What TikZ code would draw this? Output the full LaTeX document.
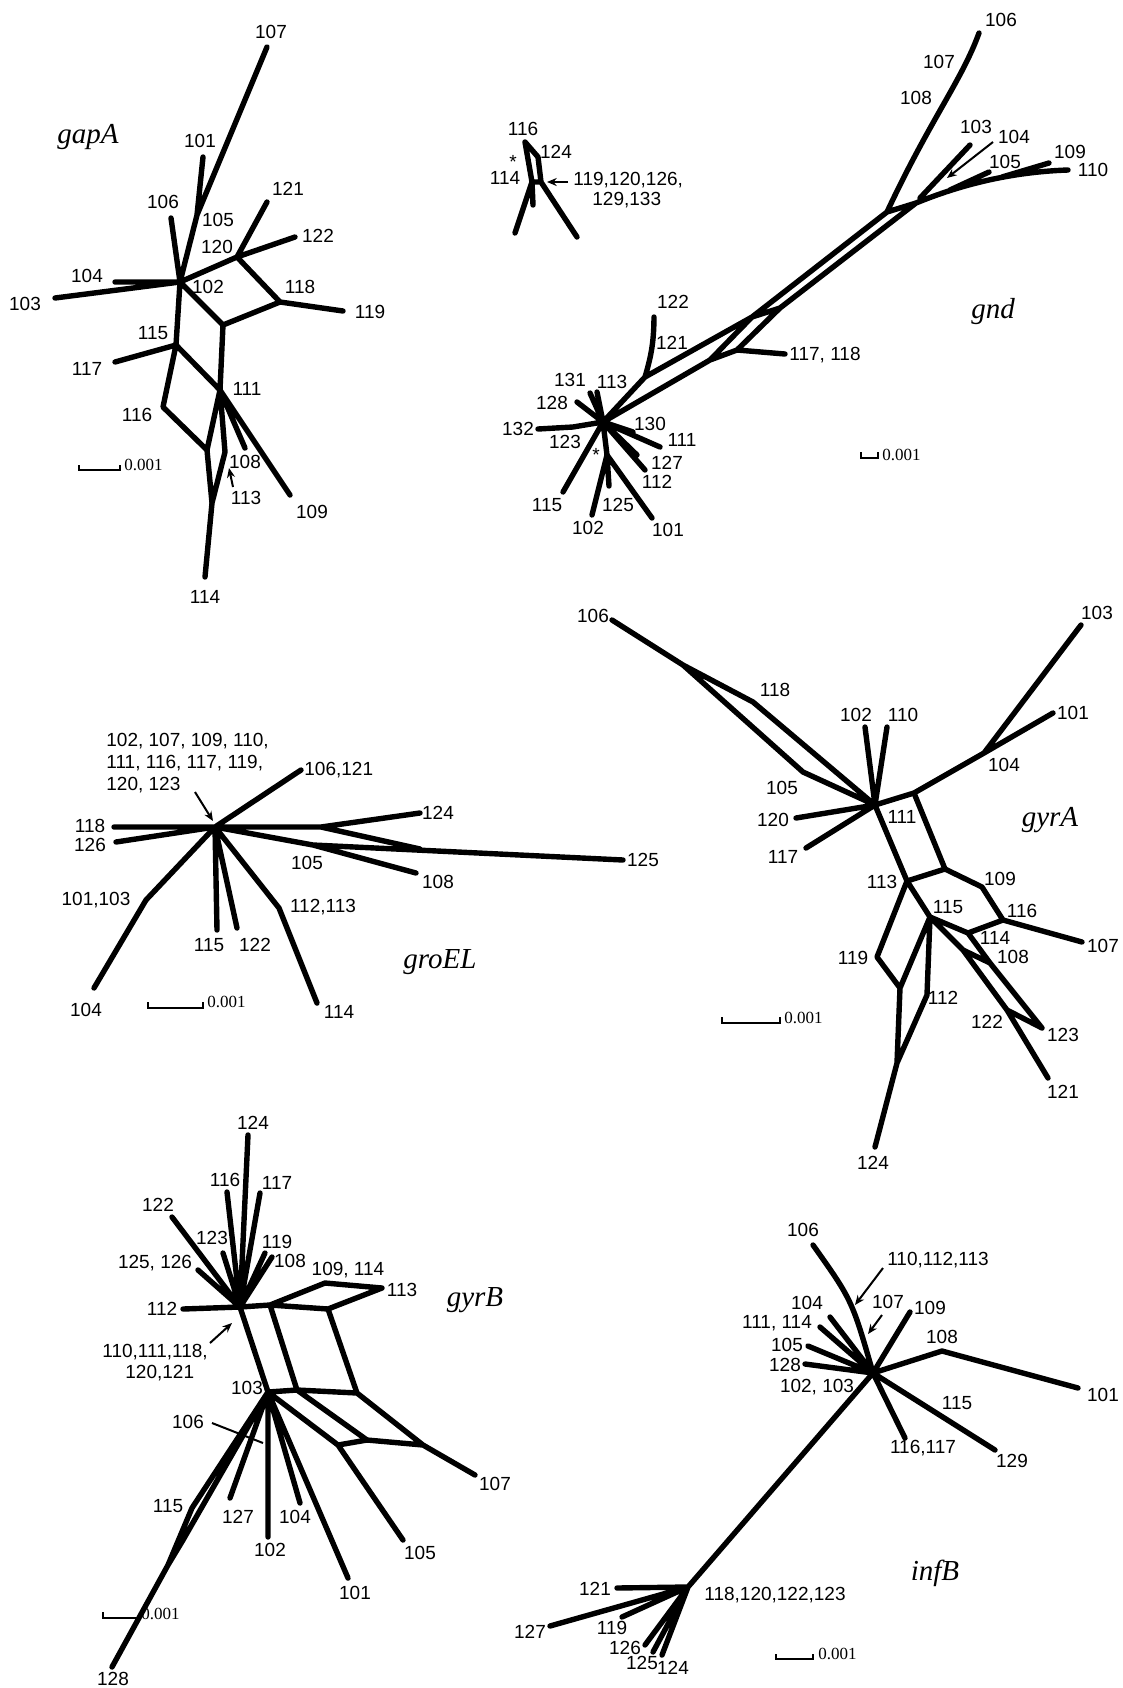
\documentclass[tikz,border=0pt]{standalone}
\usepackage{fontspec}
\setmainfont{Liberation Sans}
\newfontfamily\genefont{Liberation Serif}
\usetikzlibrary{arrows.meta}

\begin{document}
\begin{tikzpicture}[x=0.5pt, y=-0.5pt, every node/.style={inner sep=0pt},
  lab/.style={font=\fontsize{9.5}{10.8}\selectfont},
  gene/.style={font=\genefont\itshape\fontsize{14.5}{14.5}\selectfont},
  scl/.style={font=\genefont\fontsize{8.5}{9}\selectfont, anchor=west},
  br/.style={line width=2.7pt, line cap=round, line join=round},
  bar/.style={line width=1.3pt},
  arr/.style={line width=1pt, -{Stealth[length=1.7mm, width=1.4mm]}}]
\fill[white] (0,0) rectangle (1123,1688);
\useasboundingbox (0,0) rectangle (1123,1688);

% ---- gapA
\coordinate (ga-hub) at (180,282); \coordinate (ga-j) at (197,215); \coordinate (ga-e107) at (267,47);
\coordinate (ga-e101) at (203,157); \coordinate (ga-e106) at (171,218); \coordinate (ga-n120) at (237,257);
\coordinate (ga-e121) at (267,202); \coordinate (ga-e122) at (295,237); \coordinate (ga-n118) at (280,302);
\coordinate (ga-e119) at (343,311); \coordinate (ga-e104) at (115,282); \coordinate (ga-e103) at (55,298);
\coordinate (ga-n115) at (176,345); \coordinate (ga-b) at (223,325); \coordinate (ga-n111) at (220,390);
\coordinate (ga-e117) at (115,362); \coordinate (ga-n116) at (163,407); \coordinate (ga-c) at (207,450);
\coordinate (ga-d) at (225,452); \coordinate (ga-e) at (212,503); \coordinate (ga-e114) at (205,577);
\coordinate (ga-e108) at (245,448); \coordinate (ga-e109) at (290,495);
\draw[br] (ga-e107) -- (ga-j) -- (ga-hub) (ga-e101) -- (ga-j) (ga-e106) -- (ga-hub) -- (ga-n120) -- (ga-e121)
  (ga-n120) -- (ga-e122) (ga-n120) -- (ga-n118) -- (ga-e119) (ga-e104) -- (ga-hub) (ga-e103) -- (ga-hub)
  (ga-hub) -- (ga-n115) -- (ga-e117) (ga-hub) -- (ga-b) -- (ga-n118) (ga-b) -- (ga-n111) (ga-n115) -- (ga-n111)
  (ga-n115) -- (ga-n116) -- (ga-c) -- (ga-e) -- (ga-e114) (ga-n111) -- (ga-c) (ga-n111) -- (ga-d) -- (ga-e)
  (ga-n111) -- (ga-e108) (ga-n111) -- (ga-e109);
\node[lab] (ga-l107) at (271,32) {107}; \node[lab] (ga-l101) at (200,141) {101};
\node[lab] (ga-l106) at (163,202) {106}; \node[lab] (ga-l105) at (218,220) {105};
\node[lab] (ga-l120) at (217,247) {120}; \node[lab] (ga-l121) at (288,189) {121};
\node[lab] (ga-l122) at (318,236) {122}; \node[lab] (ga-l104) at (87,276) {104};
\node[lab] (ga-l103) at (25,304) {103}; \node[lab] (ga-l102) at (208,287) {102};
\node[lab] (ga-l118) at (300,287) {118}; \node[lab] (ga-l119) at (370,312) {119};
\node[lab] (ga-l115) at (153,333) {115}; \node[lab] (ga-l117) at (87,369) {117};
\node[lab] (ga-l111) at (247,389) {111}; \node[lab] (ga-l116) at (137,415) {116};
\node[lab] (ga-l108) at (245,462) {108}; \node[lab] (ga-l113) at (246,498) {113};
\node[lab] (ga-l109) at (312,512) {109}; \node[lab] (ga-l114) at (205,597) {114};
\coordinate (ga-a0) at (233,487); \coordinate (ga-a1) at (229,468);
\draw[arr] (ga-a0) -- (ga-a1);
\coordinate (ga-s0) at (79,465); \coordinate (ga-s1) at (120,465);
\draw[bar] (ga-s0) -- ++(0,5) -| (ga-s1);
\node[scl] (ga-sc) at (124,465) {0.001};
\node[gene] (ga-name) at (88,137) {gapA};

% ---- gnd, inset
\coordinate (gi-top) at (525,142); \coordinate (gi-a) at (538,157); \coordinate (gi-b) at (541,182);
\coordinate (gi-j) at (532,182); \coordinate (gi-e1) at (515,233); \coordinate (gi-e2) at (533,205);
\coordinate (gi-e3) at (577,237);
\draw[br] (gi-top) -- (gi-j) -- (gi-e1) (gi-j) -- (gi-e2) (gi-top) -- (gi-a) -- (gi-b) -- (gi-e3) (gi-j) -- (gi-b);
\node[lab] (gi-l116) at (523,129) {116}; \node[lab] (gi-l124) at (556,152) {124};
\node[lab] (gi-star) at (513,162) {*}; \node[lab] (gi-l114) at (505,178) {114};
\coordinate (gi-a0) at (568,182); \coordinate (gi-a1) at (547,182);
\draw[arr] (gi-a0) -- (gi-a1);
\node[lab, anchor=west] (gi-t1) at (573,180) {119,120,126,};
\node[lab, anchor=west] (gi-t2) at (592,200) {129,133};

% ---- gnd, main
\coordinate (gn-h) at (603,422); \coordinate (gn-r121) at (645,377); \coordinate (gn-e122) at (654,317);
\coordinate (gn-p1) at (752,317); \coordinate (gn-p2) at (780,308); \coordinate (gn-p3) at (737,350);
\coordinate (gn-p4) at (710,360); \coordinate (gn-e117) at (785,354); \coordinate (gn-u) at (887,212);
\coordinate (gn-v) at (916,203); \coordinate (gn-e106) at (979,33); \coordinate (gn-e110) at (1068,170);
\coordinate (gn-k109) at (1002,177); \coordinate (gn-e109) at (1049,163); \coordinate (gn-k105) at (950,190);
\coordinate (gn-e105) at (989,172); \coordinate (gn-n103) at (920,198); \coordinate (gn-e103) at (970,145);
\coordinate (gn-e131) at (590,393); \coordinate (gn-e113) at (597,392); \coordinate (gn-e128) at (577,402);
\coordinate (gn-k132) at (573,427); \coordinate (gn-e132) at (538,429); \coordinate (gn-e115) at (563,492);
\coordinate (gn-s) at (607,455); \coordinate (gn-e102) at (592,515); \coordinate (gn-e125) at (609,486);
\coordinate (gn-e101) at (652,518); \coordinate (gn-e112) at (645,470); \coordinate (gn-e127) at (637,455);
\coordinate (gn-e111) at (660,447); \coordinate (gn-e130) at (633,432);
\draw[br] (gn-h) -- (gn-r121) -- (gn-p1) -- (gn-u) -- (gn-v) (gn-r121) to[bend right=8] (gn-e122)
  (gn-h) -- (gn-p4) -- (gn-p3) -- (gn-e117) (gn-p4) -- (gn-p1) (gn-p3) -- (gn-p2) -- (gn-v) (gn-p1) -- (gn-p2)
  (gn-u) .. controls (930,120) and (962,80) .. (gn-e106)
  (gn-v) .. controls (960,185) and (1010,172) .. (gn-e110)
  (gn-k109) -- (gn-e109) (gn-k105) -- (gn-e105) (gn-n103) -- (gn-e103)
  (gn-h) -- (gn-e131) (gn-h) -- (gn-e113) (gn-h) -- (gn-e128) (gn-h) -- (gn-k132) -- (gn-e132)
  (gn-h) -- (gn-e115) (gn-h) -- (gn-s) -- (gn-e102) (gn-s) -- (gn-e125) (gn-s) -- (gn-e101)
  (gn-h) -- (gn-e112) (gn-h) -- (gn-e127) (gn-h) -- (gn-e111) (gn-h) -- (gn-e130);
\node[lab] (gn-l106) at (1001,20) {106}; \node[lab] (gn-l107) at (939,62) {107};
\node[lab] (gn-l108) at (916,98) {108}; \node[lab] (gn-l103) at (976,127) {103};
\node[lab] (gn-l104) at (1014,137) {104}; \node[lab] (gn-l105) at (1005,162) {105};
\node[lab] (gn-l109) at (1070,152) {109}; \node[lab] (gn-l110) at (1093,170) {110};
\node[lab] (gn-l122) at (673,302) {122}; \node[lab] (gn-l121) at (672,343) {121};
\node[lab] (gn-l117) at (825,355) {117, 118};
\node[lab] (gn-l131) at (570,380) {131}; \node[lab] (gn-l113) at (612,382) {113};
\node[lab] (gn-l128) at (552,403) {128}; \node[lab] (gn-l132) at (518,429) {132};
\node[lab] (gn-l123) at (565,442) {123}; \node[lab] (gn-star) at (596,455) {*};
\node[lab] (gn-l130) at (650,424) {130}; \node[lab] (gn-l111) at (682,440) {111};
\node[lab] (gn-l127) at (667,463) {127}; \node[lab] (gn-l112) at (657,482) {112};
\node[lab] (gn-l115) at (547,505) {115}; \node[lab] (gn-l125) at (618,505) {125};
\node[lab] (gn-l102) at (588,528) {102}; \node[lab] (gn-l101) at (668,530) {101};
\coordinate (gn-a0) at (993,142); \coordinate (gn-a1) at (947,178);
\draw[arr] (gn-a0) -- (gn-a1);
\coordinate (gn-s0) at (861,452); \coordinate (gn-s1) at (878,452);
\draw[bar] (gn-s0) -- ++(0,6) -| (gn-s1);
\node[scl] (gn-sc) at (882,455) {0.001};
\node[gene] (gn-name) at (993,312) {gnd};

% ---- groEL
\coordinate (gr-h) at (215,827); \coordinate (gr-e118) at (114,827); \coordinate (gr-e126) at (116,842);
\coordinate (gr-e106) at (301,770); \coordinate (gr-m) at (321,827); \coordinate (gr-e124) at (420,813);
\coordinate (gr-k) at (420,849); \coordinate (gr-n105) at (313,845); \coordinate (gr-e125) at (623,860);
\coordinate (gr-e108) at (416,873); \coordinate (gr-n101) at (146,900); \coordinate (gr-e104) at (94,988);
\coordinate (gr-e115) at (217,930); \coordinate (gr-e122) at (237,928); \coordinate (gr-n112) at (279,908);
\coordinate (gr-e114) at (317,1003);
\draw[br] (gr-e118) -- (gr-h) -- (gr-m) -- (gr-k) (gr-h) -- (gr-e126) (gr-h) -- (gr-e106) (gr-m) -- (gr-e124)
  (gr-h) -- (gr-n105) -- (gr-e125) (gr-n105) -- (gr-e108) (gr-h) -- (gr-n101) -- (gr-e104)
  (gr-h) -- (gr-e115) (gr-h) -- (gr-e122) (gr-h) -- (gr-n112) -- (gr-e114);
\node[lab, align=left, anchor=west] (gr-list) at (106,763) {102, 107, 109, 110,\\111, 116, 117, 119,\\120, 123};
\coordinate (gr-a0) at (195,792); \coordinate (gr-a1) at (213,821);
\draw[arr] (gr-a0) -- (gr-a1);
\node[lab, anchor=west] (gr-l106) at (304,770) {106,121};
\node[lab] (gr-l118) at (90,826) {118}; \node[lab] (gr-l126) at (90,845) {126};
\node[lab] (gr-l124) at (438,813) {124}; \node[lab] (gr-l105) at (307,863) {105};
\node[lab] (gr-l108) at (438,882) {108}; \node[lab] (gr-l125) at (643,860) {125};
\node[lab] (gr-l101) at (96,900) {101,103}; \node[lab] (gr-l104) at (86,1010) {104};
\node[lab] (gr-l115) at (209,945) {115}; \node[lab] (gr-l122) at (255,945) {122};
\node[lab] (gr-l112) at (323,907) {112,113}; \node[lab] (gr-l114) at (339,1012) {114};
\coordinate (gr-s0) at (148,1002); \coordinate (gr-s1) at (203,1002);
\draw[bar] (gr-s0) -- ++(0,6) -| (gr-s1);
\node[scl] (gr-sc) at (207,1002) {0.001};
\node[gene] (gr-name) at (440,962) {groEL};

% ---- gyrA
\coordinate (gy-e106) at (612,620); \coordinate (gy-a) at (683,665); \coordinate (gy-n118) at (753,702);
\coordinate (gy-n105) at (803,772); \coordinate (gy-h) at (875,805); \coordinate (gy-e102) at (865,727);
\coordinate (gy-e110) at (887,727); \coordinate (gy-e120) at (796,818); \coordinate (gy-e117) at (806,848);
\coordinate (gy-b) at (914,793); \coordinate (gy-n104) at (984,753); \coordinate (gy-e103) at (1081,625);
\coordinate (gy-e101) at (1053,713); \coordinate (gy-n113) at (907,881); \coordinate (gy-c) at (945,869);
\coordinate (gy-n109) at (982,887); \coordinate (gy-n116) at (1003,920); \coordinate (gy-e107) at (1082,942);
\coordinate (gy-n114) at (968,933); \coordinate (gy-n115) at (930,917); \coordinate (gy-q) at (963,950);
\coordinate (gy-n108) at (990,963); \coordinate (gy-n122) at (1007,1010); \coordinate (gy-e123) at (1042,1028);
\coordinate (gy-e121) at (1048,1078); \coordinate (gy-n119) at (877,957); \coordinate (gy-d) at (900,988);
\coordinate (gy-e) at (927,995); \coordinate (gy-f) at (897,1063); \coordinate (gy-e124) at (875,1147);
\draw[br] (gy-e106) -- (gy-a) -- (gy-n118) -- (gy-h) (gy-a) -- (gy-n105) -- (gy-h)
  (gy-h) -- (gy-e102) (gy-h) -- (gy-e110) (gy-h) -- (gy-e120) (gy-h) -- (gy-e117)
  (gy-h) -- (gy-b) -- (gy-n104) -- (gy-e103) (gy-n104) -- (gy-e101)
  (gy-h) -- (gy-n113) -- (gy-c) -- (gy-b) (gy-c) -- (gy-n109) -- (gy-n116) -- (gy-e107) (gy-n116) -- (gy-n114)
  (gy-n113) -- (gy-n115) -- (gy-n114) -- (gy-n108) -- (gy-e123) (gy-n115) -- (gy-q) -- (gy-n108)
  (gy-q) -- (gy-n122) -- (gy-e123) (gy-n122) -- (gy-e121)
  (gy-n113) -- (gy-n119) -- (gy-d) -- (gy-f) (gy-n115) -- (gy-d) (gy-n115) -- (gy-e) -- (gy-f) -- (gy-e124);
\node[lab] (gy-l106) at (593,616) {106}; \node[lab] (gy-l118) at (775,690) {118};
\node[lab] (gy-l105) at (782,788) {105}; \node[lab] (gy-l102) at (856,715) {102};
\node[lab] (gy-l110) at (903,715) {110}; \node[lab] (gy-l120) at (773,820) {120};
\node[lab] (gy-l117) at (783,857) {117}; \node[lab] (gy-l111) at (902,817) {111};
\node[lab] (gy-l104) at (1004,765) {104}; \node[lab] (gy-l103) at (1097,613) {103};
\node[lab] (gy-l101) at (1073,713) {101}; \node[lab] (gy-l113) at (882,882) {113};
\node[lab] (gy-l109) at (1000,879) {109}; \node[lab] (gy-l116) at (1022,911) {116};
\node[lab] (gy-l115) at (948,907) {115}; \node[lab] (gy-l114) at (995,938) {114};
\node[lab] (gy-l108) at (1013,957) {108}; \node[lab] (gy-l107) at (1103,946) {107};
\node[lab] (gy-l119) at (853,958) {119}; \node[lab] (gy-l112) at (943,998) {112};
\node[lab] (gy-l122) at (987,1022) {122}; \node[lab] (gy-l123) at (1063,1035) {123};
\node[lab] (gy-l121) at (1063,1092) {121}; \node[lab] (gy-l124) at (873,1163) {124};
\coordinate (gy-s0) at (722,1017); \coordinate (gy-s1) at (780,1017);
\draw[bar] (gy-s0) -- ++(0,6) -| (gy-s1);
\node[scl] (gy-sc) at (784,1018) {0.001};
\node[gene] (gy-name) at (1050,820) {gyrA};

% ---- gyrB
\coordinate (gb-h) at (240,1307); \coordinate (gb-e124) at (248,1135); \coordinate (gb-e116) at (227,1192);
\coordinate (gb-e117) at (260,1193); \coordinate (gb-e122) at (172,1217); \coordinate (gb-e123) at (223,1253);
\coordinate (gb-e125) at (198,1270); \coordinate (gb-e119) at (265,1253); \coordinate (gb-e108) at (272,1257);
\coordinate (gb-e112) at (183,1309); \coordinate (gb-n1) at (270,1305); \coordinate (gb-n2) at (328,1309);
\coordinate (gb-n3) at (325,1283); \coordinate (gb-e113) at (382,1288); \coordinate (gb-n103) at (268,1392);
\coordinate (gb-n4) at (297,1390); \coordinate (gb-n5) at (357,1393); \coordinate (gb-n7) at (423,1445);
\coordinate (gb-e107) at (475,1475); \coordinate (gb-n6) at (367,1440); \coordinate (gb-n8) at (338,1445);
\coordinate (gb-e105) at (403,1540); \coordinate (gb-e101) at (348,1578); \coordinate (gb-e104) at (300,1503);
\coordinate (gb-e102) at (268,1537); \coordinate (gb-e127) at (230,1498); \coordinate (gb-n115) at (192,1508);
\coordinate (gb-nb) at (183,1540); \coordinate (gb-nc) at (168,1565); \coordinate (gb-e128) at (112,1667);
\draw[br] (gb-h) -- (gb-e124) (gb-h) -- (gb-e116) (gb-h) -- (gb-e117) (gb-h) -- (gb-e122) (gb-h) -- (gb-e123)
  (gb-h) -- (gb-e125) (gb-h) -- (gb-e119) (gb-h) -- (gb-e108) (gb-h) -- (gb-e112)
  (gb-h) -- (gb-n1) -- (gb-n2) -- (gb-e113) -- (gb-n3) -- (gb-n1)
  (gb-h) -- (gb-n103) -- (gb-n4) -- (gb-n5) -- (gb-n7) -- (gb-e107) (gb-n1) -- (gb-n4) (gb-n2) -- (gb-n5)
  (gb-n4) -- (gb-n6) -- (gb-n7) (gb-n103) -- (gb-n8) -- (gb-n6) (gb-n8) -- (gb-e105)
  (gb-n103) -- (gb-e101) (gb-n103) -- (gb-e104) (gb-n103) -- (gb-e102) (gb-n103) -- (gb-e127)
  (gb-n103) -- (gb-n115) -- (gb-nc) -- (gb-e128) (gb-n103) -- (gb-nb) -- (gb-nc);
\node[lab] (gb-l124) at (253,1123) {124}; \node[lab] (gb-l116) at (225,1180) {116};
\node[lab] (gb-l117) at (277,1183) {117}; \node[lab] (gb-l122) at (158,1205) {122};
\node[lab] (gb-l123) at (212,1238) {123}; \node[lab] (gb-l125) at (155,1263) {125, 126};
\node[lab] (gb-l119) at (277,1242) {119}; \node[lab] (gb-l108) at (290,1261) {108};
\node[lab] (gb-l112) at (162,1309) {112}; \node[lab] (gb-l109) at (348,1270) {109, 114};
\node[lab] (gb-l113) at (402,1290) {113}; \node[lab] (gb-l103) at (247,1388) {103};
\node[lab] (gb-l107) at (495,1484) {107}; \node[lab] (gb-l105) at (420,1553) {105};
\node[lab] (gb-l101) at (355,1593) {101}; \node[lab] (gb-l104) at (295,1517) {104};
\node[lab] (gb-l102) at (270,1550) {102}; \node[lab] (gb-l127) at (238,1517) {127};
\node[lab] (gb-l115) at (168,1506) {115}; \node[lab] (gb-l128) at (113,1679) {128};
\node[lab] (gb-l106) at (188,1422) {106};
\coordinate (gb-p0) at (212,1423); \coordinate (gb-p1) at (263,1443);
\draw[line width=1pt] (gb-p0) -- (gb-p1);
\coordinate (gb-a0) at (210,1343); \coordinate (gb-a1) at (232,1323);
\draw[arr] (gb-a0) -- (gb-a1);
\node[lab, anchor=west] (gb-t1) at (102,1352) {110,111,118,};
\node[lab, anchor=west] (gb-t2) at (125,1373) {120,121};
\coordinate (gb-s0) at (103,1612); \coordinate (gb-s1) at (140,1612);
\draw[bar] (gb-s0) -- ++(0,6) -| (gb-s1);
\node[scl] (gb-sc) at (141,1614) {0.001};
\node[gene] (gb-name) at (475,1300) {gyrB};

% ---- infB
\coordinate (ib-h) at (873,1373); \coordinate (ib-e106) at (813,1245); \coordinate (ib-e109) at (910,1312);
\coordinate (ib-e104) at (830,1317); \coordinate (ib-e111) at (820,1327); \coordinate (ib-e105) at (808,1346);
\coordinate (ib-e128) at (805,1364); \coordinate (ib-n108) at (942,1351); \coordinate (ib-e101) at (1078,1388);
\coordinate (ib-e129) at (995,1450); \coordinate (ib-e116) at (905,1438); \coordinate (ib-l) at (688,1587);
\coordinate (ib-e121) at (617,1588); \coordinate (ib-e127) at (550,1626); \coordinate (ib-e119) at (622,1617);
\coordinate (ib-e126) at (645,1645); \coordinate (ib-e125) at (653,1652); \coordinate (ib-e124) at (662,1655);
\draw[br] (ib-e106) .. controls (852,1300) .. (ib-h) (ib-h) -- (ib-e109) (ib-h) -- (ib-e104) (ib-h) -- (ib-e111)
  (ib-h) -- (ib-e105) (ib-h) -- (ib-e128) (ib-h) -- (ib-n108) -- (ib-e101) (ib-h) -- (ib-e129) (ib-h) -- (ib-e116)
  (ib-h) -- (ib-l) -- (ib-e121) (ib-l) -- (ib-e127) (ib-l) -- (ib-e119) (ib-l) -- (ib-e126)
  (ib-l) -- (ib-e125) (ib-l) -- (ib-e124);
\node[lab] (ib-l106) at (803,1230) {106}; \node[lab] (ib-l110) at (938,1260) {110,112,113};
\node[lab] (ib-l107) at (888,1302) {107}; \node[lab] (ib-l109) at (930,1308) {109};
\node[lab] (ib-l104) at (807,1303) {104}; \node[lab] (ib-l111) at (777,1323) {111, 114};
\node[lab] (ib-l105) at (787,1345) {105}; \node[lab] (ib-l128) at (785,1365) {128};
\node[lab] (ib-l102) at (817,1387) {102, 103}; \node[lab] (ib-l108) at (942,1337) {108};
\node[lab] (ib-l101) at (1103,1395) {101}; \node[lab] (ib-l115) at (957,1403) {115};
\node[lab] (ib-l129) at (1012,1461) {129}; \node[lab] (ib-l116) at (923,1448) {116,117};
\node[lab] (ib-l121) at (595,1589) {121}; \node[lab] (ib-l127) at (530,1632) {127};
\node[lab] (ib-l119) at (612,1628) {119}; \node[lab] (ib-l126) at (625,1648) {126};
\node[lab] (ib-l125) at (642,1663) {125}; \node[lab] (ib-l124) at (673,1668) {124};
\node[lab] (ib-l118) at (775,1595) {118,120,122,123};
\coordinate (ib-a0) at (883,1268); \coordinate (ib-a1) at (855,1305);
\coordinate (ib-b0) at (882,1315); \coordinate (ib-b1) at (868,1334);
\draw[arr] (ib-a0) -- (ib-a1);
\draw[arr] (ib-b0) -- (ib-b1);
\coordinate (ib-s0) at (776,1654); \coordinate (ib-s1) at (813,1654);
\draw[bar] (ib-s0) -- ++(0,5) -| (ib-s1);
\node[scl] (ib-sc) at (818,1654) {0.001};
\node[gene] (ib-name) at (935,1573) {infB};
\end{tikzpicture}
\end{document}
